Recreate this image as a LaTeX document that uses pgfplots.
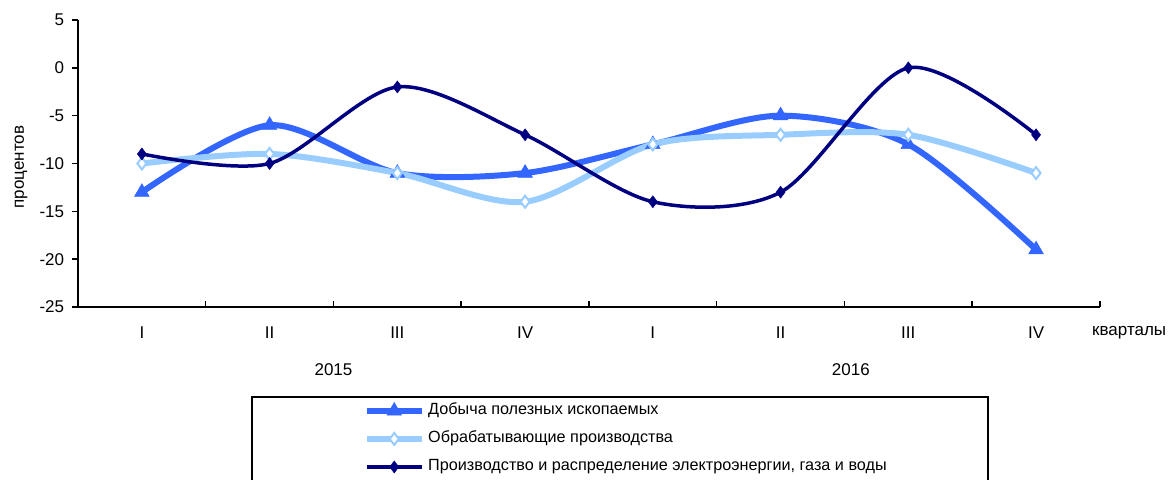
\documentclass[border=0pt]{standalone}
\usepackage{fontspec}
\setmainfont{Liberation Sans}
\usepackage{pgfplots}
\pgfplotsset{compat=1.18}
\usetikzlibrary{calc}
\definecolor{cBlue}{HTML}{3366FF}
\definecolor{cLight}{HTML}{99CCFF}
\definecolor{cNavy}{HTML}{000080}
\begin{document}
\fontsize{17bp}{20bp}\selectfont
\begin{tikzpicture}[x=1bp,y=1bp]
\begin{axis}[
  width=1022bp, height=287bp, scale only axis,
  xmin=0.5, xmax=8.5, ymin=-25, ymax=5,
  axis lines=left, axis line style={-, line width=1.5bp, black},
  clip=false,
  ytick={-25,-20,...,5},
  yticklabels={-25,-20,-15,-10,-5,0,5},
  ytick style={line width=1.5bp, black},
  ytick align=outside, major tick length=6bp,
  yticklabel style={font=\fontsize{17bp}{20bp}\selectfont, xshift=-2bp},
  xtick={0.5,1.5,...,8.5},
  xticklabels={},
  xtick align=inside,
  xtick style={line width=1.5bp, black},
  extra x ticks={1,2,3,4,5,6,7,8},
  extra x tick labels={I,II,III,IV,I,II,III,IV},
  extra x tick style={major tick length=0pt, xticklabel style={font=\fontsize{17bp}{20bp}\selectfont, yshift=-14bp}},
  legend style={draw=none, fill=none, at={(axis description cs:0.2799,-0.332)}, anchor=north west,
    inner sep=0pt, row sep=12bp,
    nodes={font=\fontsize{16.2bp}{19bp}\selectfont, inner sep=0pt, text height=12bp, text depth=4bp},
    /tikz/every odd column/.append style={column sep=3bp}},
  legend cell align=left,
  legend image code/.code={\draw[#1, mark repeat=2, mark phase=2, sharp plot] plot coordinates {(0bp,0bp) (27bp,0bp) (55bp,0bp)};},
]
\addplot[cBlue, line width=6bp, smooth, tension=0.5, mark=triangle*, mark size=8.5bp, mark options={fill=cBlue, draw=cBlue, line width=0.5bp}]
  coordinates {(1,-13) (2,-6) (3,-11) (4,-11) (5,-8) (6,-5) (7,-8) (8,-19)};
\addlegendentry{Добыча полезных ископаемых}
\addplot[cLight, line width=6bp, smooth, tension=0.5, mark=diamond*, mark size=6bp, mark options={fill=white, draw=cLight, line width=2bp}]
  coordinates {(1,-10) (2,-9) (3,-11) (4,-14) (5,-8) (6,-7) (7,-7) (8,-11)};
\addlegendentry{Обрабатывающие производства}
\addplot[cNavy, line width=3.5bp, smooth, tension=0.5, mark=diamond*, mark size=6bp, mark options={fill=cNavy, draw=cNavy, line width=0.5bp}]
  coordinates {(1,-9) (2,-10) (3,-2) (4,-7) (5,-14) (6,-13) (7,0) (8,-7)};
\addlegendentry{Производство и распределение электроэнергии, газа и воды}
\node at (axis cs:2.5,-25) [yshift=-63bp] {2015};
\node at (axis cs:6.55,-25) [yshift=-63bp] {2016};
\coordinate (BL) at (axis cs:0.5,-25);
\end{axis}
\node[anchor=west, inner sep=0pt] at ($(BL)+(1014,-26)$) {кварталы};
\node[rotate=90, inner sep=0pt] at ($(BL)+(-57,140)$) {процентов};
\draw[line width=1.5bp] ($(BL)+(174,-203)$) -- ($(BL)+(174,-90)$) -- ($(BL)+(910,-90)$) -- ($(BL)+(910,-203)$);
\pgfresetboundingbox
\path[use as bounding box] ($(BL)+(-78,-173)$) rectangle +(1176,480);
\end{tikzpicture}
\end{document}
